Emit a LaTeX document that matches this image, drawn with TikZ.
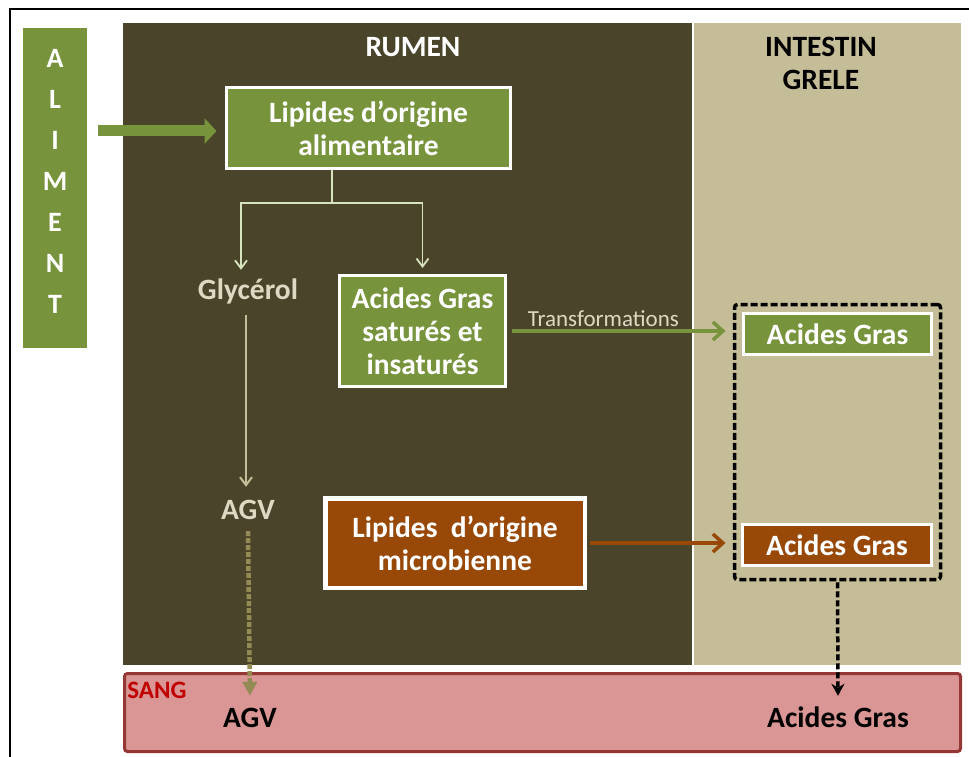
\documentclass[tikz,border=0pt]{standalone}
\usepackage{fontspec}
\setmainfont{Carlito}
\usetikzlibrary{positioning,arrows.meta,calc}
\definecolor{leafc}{HTML}{77933C}
\definecolor{rustc}{HTML}{984807}
\definecolor{rumenc}{HTML}{4A452A}
\definecolor{tanc}{HTML}{C4BD97}
\definecolor{palec}{HTML}{D7E4BD}
\definecolor{beigec}{HTML}{DDD9C3}
\definecolor{olivec}{HTML}{948A54}
\definecolor{bloodc}{HTML}{D99694}
\definecolor{bloodd}{HTML}{953735}
\definecolor{sangc}{HTML}{C00000}
\newcommand{\bfnt}{\fontsize{29.5}{33}\selectfont\bfseries}
\tikzset{
  box/.style  ={draw=white,line width=3pt,text=white,font=\bfnt,align=center,inner sep=0pt},
  gbox/.style ={box,fill=leafc},
  rbox/.style ={box,fill=rustc},
  word/.style ={font=\bfnt,inner xsep=2pt,inner ysep=6pt,text height=20pt,text depth=6pt},
  ttl/.style  ={font=\bfnt,align=center},
  lbl/.style  ={font=\fontsize{23}{27}\selectfont,text=beigec,inner sep=0pt},
  fat/.style  ={draw=leafc,line width=11pt,-{Triangle[length=12pt,width=25pt]}},
  twig/.style ={draw=palec,line width=1.8pt},
  twigA/.style={twig,-{Straight Barb[length=8pt,width=12pt]}},
  stem/.style ={draw=tanc,line width=2pt,-{Straight Barb[length=8pt,width=12pt]}},
  arG/.style  ={draw=leafc,line width=3.5pt,-{Straight Barb[length=10pt,width=18pt]}},
  arR/.style  ={arG,draw=rustc},
  dashO/.style={draw=olivec,line width=4.5pt,dash pattern=on 5pt off 2pt,-{Triangle[length=14pt,width=14pt]}},
  dashK/.style={draw=black,line width=3.5pt,dash pattern=on 6pt off 3pt,-{Stealth[length=12pt,width=13pt]}},
}
\begin{document}
\begin{tikzpicture}[x=1pt,y=-1pt]
\useasboundingbox (0,0) rectangle (969,757);
\clip (0,0) rectangle (969,757);

% ---------- frame and areas ----------------------------------------------
\draw[line width=1.6pt] (10,800) |- (1000,9);
\fill[rumenc] (123,23) rectangle (692,665);
\fill[tanc] (694,23) rectangle (961,665);
\draw[fill=bloodc,draw=bloodd,line width=3pt,rounded corners=3pt] (124.5,673.5) rectangle (960.5,751.5);

\node[ttl,text=white] (rumenl) at (413,47) {RUMEN};
\node[ttl,text=black] (intl) at (821,63.5) {INTESTIN\\GRELE};
\node[font=\fontsize{25}{29}\selectfont\bfseries,text=sangc,inner sep=0pt] (sangl) at (157,690) {SANG};

% ---------- aliment ------------------------------------------------------
\node[fill=leafc,minimum width=64,minimum height=320,inner sep=0pt] (aliment) at (55,188) {};
\node[font=\fontsize{28}{41}\selectfont\bfseries,text=white,align=center,inner sep=0pt] (alimt)
  at (55,181) {A\\L\\I\\M\\E\\N\\T};

% ---------- rumen --------------------------------------------------------
\node[gbox,minimum width=284,minimum height=81] (lipal) at (368.5,128)
  {Lipides d’origine\\alimentaire};
\node[gbox,minimum width=166,minimum height=111] (agsat) at (422.5,331)
  {Acides Gras\\saturés et\\insaturés};
\node[word,text=beigec] (glyc) at (248,292) {Glycérol};
\node[word,text=beigec] (agv) at (248,512) {AGV};
\node[rbox,line width=4.5pt,minimum width=259.5,minimum height=89.5] (micro) at (455,543)
  {Lipides\ \ d’origine\\microbienne};

\coordinate (alin) at ([yshift=-3pt]lipal.west);
\draw[fat,shorten <=11pt,shorten >=8.5pt] (aliment.east|-alin) -- (alin);
\coordinate (split) at (332,203);
\draw[twig] (split|-lipal.south) -- (split);
\draw[twigA] (split) -| ([xshift=-7pt,yshift=3pt]glyc.north);
\draw[twigA,shorten >=6pt] (split) -| (agsat.north);
\draw[stem,shorten <=4pt,shorten >=6pt] ([xshift=-2pt]glyc.south) -- ([xshift=-2pt]agv.north);

% ---------- intestin grele -----------------------------------------------
\node[gbox,minimum width=188,minimum height=41] (agg1) at (837.5,334) {Acides Gras};
\node[rbox,minimum width=189,minimum height=41] (agg2) at (837,545) {Acides Gras};
\node[draw=black,line width=3.5pt,dash pattern=on 7pt off 3pt,rounded corners=3pt,
  minimum width=206,minimum height=275] (dbox) at (837.5,442) {};

\draw[arG,shorten <=4.5pt,shorten >=16.5pt] (agsat.east) -- (agsat.east-|agg1.west)
  node[lbl,pos=0.41,anchor=south,above=3pt] (transf) {Transformations};
\draw[arR,shorten <=2.5pt,shorten >=15.5pt] (micro.east) -- (micro.east-|agg2.west);

% ---------- sang ---------------------------------------------------------
\node[word,text=black] (sagv) at (250,720) {AGV};
\node[word,text=black] (sag) at (838,720) {Acides Gras};
\draw[dashO,shorten >=5pt] (agv.south) -- (sagv.north);
\draw[dashK,shorten <=1pt,shorten >=5pt] (dbox.south) -- (sag.north);
\end{tikzpicture}
\end{document}
